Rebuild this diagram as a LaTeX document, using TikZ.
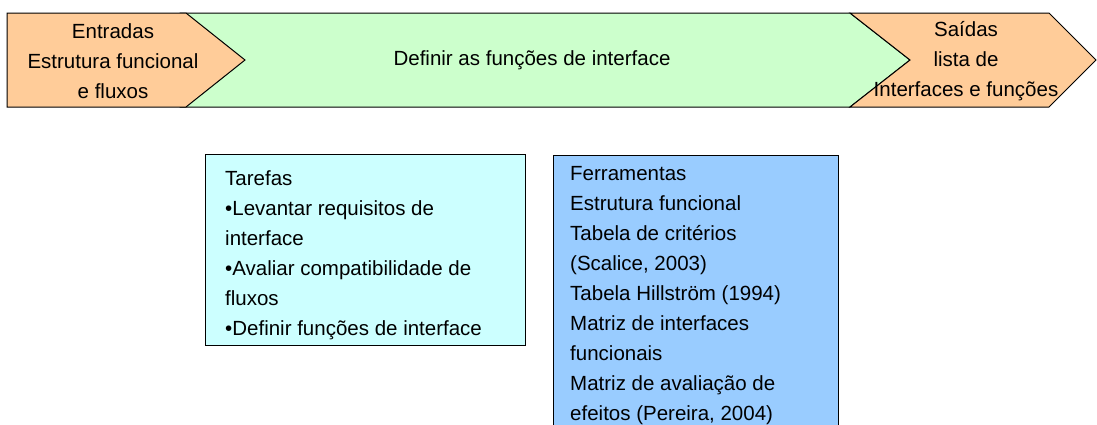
\documentclass[tikz,border=0pt]{standalone}
\usepackage{fontspec}
\setmainfont{Liberation Sans}
\definecolor{orangefill}{HTML}{FFCC99}
\definecolor{greenfill}{HTML}{CCFFCC}
\definecolor{tarfill}{HTML}{CCFFFF}
\definecolor{ferfill}{HTML}{99CCFF}
\begin{document}
\begin{tikzpicture}[x=1pt,y=-1pt,
  lbl/.style={font=\fontsize{20.5}{30}\selectfont, inner sep=0pt},
  outl/.style={draw=black, line width=1pt, line join=miter}]
\useasboundingbox (0,0) rectangle (1097,424);
\fill[white] (0,0) rectangle (1097,424);
\clip (0,0) rectangle (1097,424);
% green central chevron
\draw[outl, fill=greenfill] (180,13) -- (850,13) -- (910,60) -- (850,107) -- (180,107) -- cycle;
% left chevron
\draw[outl, fill=orangefill] (7,13) -- (186,13) -- (245,60) -- (186,107) -- (7,107) -- cycle;
% right chevron
\draw[outl, fill=orangefill] (850,13) -- (1049,13) -- (1096,60) -- (1049,107) -- (850,107) -- (910,60) -- cycle;
\node[lbl, align=center] (entradas) at (113,61) {Entradas\\Estrutura funcional\\e fluxos};
\node[lbl] (definir) at (532,60) {Definir as funções de interface};
\node[lbl, align=center] (saidas) at (966,61) {Saídas\\lista de\\Interfaces e funções};
% boxes
\draw[outl, fill=tarfill] (205,154) rectangle (525,345);
\fill[ferfill] (553,155) rectangle (838,430);
\draw[outl] (553,430) -- (553,155) -- (838,155) -- (838,430);
\node[lbl, align=left, anchor=north west] (tarefas) at (225,170) {Tarefas\\•Levantar requisitos de\\interface\\•Avaliar compatibilidade de\\fluxos\\•Definir funções de interface};
\node[lbl, align=left, anchor=north west] (ferramentas) at (570,166) {Ferramentas\\Estrutura funcional\\Tabela de critérios\\(Scalice, 2003)\\Tabela Hillström (1994)\\Matriz de interfaces\\funcionais\\Matriz de avaliação de\\efeitos (Pereira, 2004)};
\end{tikzpicture}
\end{document}
